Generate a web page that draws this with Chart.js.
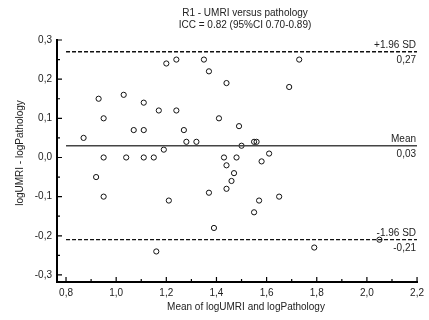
<!DOCTYPE html>
<html>
<head>
<meta charset="utf-8">
<script src="https://cdn.jsdelivr.net/npm/chart.js@4"></script>
<style>
html, body { margin: 0; padding: 0; background: #fff; }
</style>
</head>
<body>
<canvas id="chart" width="429" height="320"></canvas>
<script>
// mean of the two log measurements (x) and their difference (y)
const meanValues = [0.87, 0.93, 0.95, 0.95, 0.92, 0.95, 1.03, 1.04, 1.07, 1.11,
    1.11, 1.11, 1.15, 1.17, 1.19, 1.16, 1.20, 1.21, 1.24, 1.24,
    1.27, 1.28, 1.32, 1.35, 1.37, 1.37, 1.39, 1.41, 1.44, 1.43,
    1.44, 1.44, 1.46, 1.47, 1.48, 1.49, 1.50, 1.55, 1.56, 1.55,
    1.57, 1.58, 1.61, 1.65, 1.69, 1.73, 1.79, 2.05];
const diffValues = [0.05, 0.15, 0.10, 0.00, -0.05, -0.10, 0.16, 0.00, 0.07, 0.14,
    0.07, 0.00, 0.00, 0.12, 0.02, -0.24, 0.24, -0.11, 0.25, 0.12,
    0.07, 0.04, 0.04, 0.25, 0.22, -0.09, -0.18, 0.10, 0.19, 0.00,
    -0.02, -0.08, -0.06, -0.04, 0.00, 0.08, 0.03, 0.04, 0.04, -0.14,
    -0.11, -0.01, 0.01, -0.10, 0.18, 0.25, -0.23, -0.21];

const meanDiff = 0.03;
const upperLimit = 0.27;
const lowerLimit = -0.21;
const lineStart = 0.8;
const lineEnd = 2.2;

const xTicks = [0.8, 1.0, 1.2, 1.4, 1.6, 1.8, 2.0, 2.2];
const yTicks = [-0.3, -0.2, -0.1, 0.0, 0.1, 0.2, 0.3];

const titleLines = ['R1 - UMRI versus pathology', 'ICC = 0.82 (95%CI 0.70-0.89)'];
const xTitle = 'Mean of logUMRI and logPathology';
const yTitle = 'logUMRI - logPathology';

const FONT = '"Liberation Sans", Arial, sans-serif';
const TEXT = '#222';

function fmt(v) {
    return v.toFixed(2).replace('.', ',');
}

const points = meanValues.map((m, i) => ({x: m, y: diffValues[i]}));
function hline(v) {
    return [{x: lineStart, y: v}, {x: lineEnd, y: v}];
}

// inward tick marks, texts around the plot
const extras = {
    id: 'extras',
    afterDraw(chart) {
        const {ctx, chartArea, scales: {x, y}} = chart;
        ctx.save();
        ctx.strokeStyle = '#000';
        ctx.lineWidth = 1.2;
        ctx.beginPath();
        xTicks.forEach((v, i) => {
            const px = x.getPixelForValue(v);
            ctx.moveTo(px, chartArea.bottom);
            ctx.lineTo(px, chartArea.bottom - 5);
            if (i < xTicks.length - 1) {
                const mx = x.getPixelForValue((v + xTicks[i + 1]) / 2);
                ctx.moveTo(mx, chartArea.bottom);
                ctx.lineTo(mx, chartArea.bottom - 3);
            }
        });
        yTicks.forEach((v, i) => {
            const py = y.getPixelForValue(v);
            ctx.moveTo(chartArea.left, py);
            ctx.lineTo(chartArea.left + 5, py);
            if (i < yTicks.length - 1) {
                const my = y.getPixelForValue((v + yTicks[i + 1]) / 2);
                ctx.moveTo(chartArea.left, my);
                ctx.lineTo(chartArea.left + 3, my);
            }
        });
        ctx.stroke();

        ctx.fillStyle = TEXT;
        ctx.font = '10px ' + FONT;
        ctx.textAlign = 'center';
        ctx.textBaseline = 'middle';
        ctx.fillText(titleLines[0], 245, 13);
        ctx.fillText(titleLines[1], 245, 25);
        ctx.fillText(xTitle, 246, 307);

        ctx.save();
        ctx.translate(20, 153);
        ctx.rotate(-Math.PI / 2);
        ctx.fillText(yTitle, 0, 0);
        ctx.restore();

        const right = chartArea.right - 1;
        ctx.textAlign = 'right';
        [[upperLimit, '+1.96 SD'], [meanDiff, 'Mean'], [lowerLimit, '-1.96 SD']].forEach(([v, name]) => {
            const py = y.getPixelForValue(v);
            ctx.textBaseline = 'bottom';
            ctx.fillText(name, right, py - 1);
            ctx.textBaseline = 'top';
            ctx.fillText(fmt(v), right, py + 4);
        });
        ctx.restore();
    }
};

const ctx = document.getElementById('chart').getContext('2d');
new Chart(ctx, {
    type: 'scatter',
    data: {
        datasets: [
            {
                type: 'line',
                data: hline(upperLimit),
                borderColor: '#111',
                borderWidth: 1.3,
                borderDash: [4, 2],
                pointRadius: 0
            },
            {
                type: 'line',
                data: hline(meanDiff),
                borderColor: '#444',
                borderWidth: 1.5,
                pointRadius: 0
            },
            {
                type: 'line',
                data: hline(lowerLimit),
                borderColor: '#111',
                borderWidth: 1.3,
                borderDash: [4, 2],
                pointRadius: 0
            },
            {
                data: points,
                pointStyle: 'circle',
                pointRadius: 2.6,
                borderWidth: 1,
                borderColor: '#111',
                backgroundColor: 'rgba(0,0,0,0)'
            }
        ]
    },
    options: {
        responsive: false,
        animation: false,
        layout: {padding: {top: 40, right: 9, left: 0, bottom: 0}},
        plugins: {
            legend: {display: false},
            tooltip: {enabled: false}
        },
        scales: {
            x: {
                type: 'linear',
                min: 0.764,
                max: 2.2,
                afterBuildTicks: s => { s.ticks = xTicks.map(v => ({value: v})); },
                afterFit: s => { s.height = 38; },
                grid: {display: false, drawTicks: false},
                border: {display: true, color: '#000', width: 2},
                ticks: {
                    callback: v => v.toFixed(1).replace('.', ','),
                    font: {family: FONT, size: 10},
                    color: TEXT,
                    padding: 5,
                    maxRotation: 0
                }
            },
            y: {
                min: -0.318,
                max: 0.3,
                afterBuildTicks: s => { s.ticks = yTicks.map(v => ({value: v})); },
                afterFit: s => { s.width = 57; },
                grid: {display: false, drawTicks: false},
                border: {display: true, color: '#000', width: 2},
                ticks: {
                    callback: v => v.toFixed(1).replace('.', ','),
                    font: {family: FONT, size: 10},
                    color: TEXT,
                    padding: 5
                }
            }
        }
    },
    plugins: [extras]
});
</script>
</body>
</html>
